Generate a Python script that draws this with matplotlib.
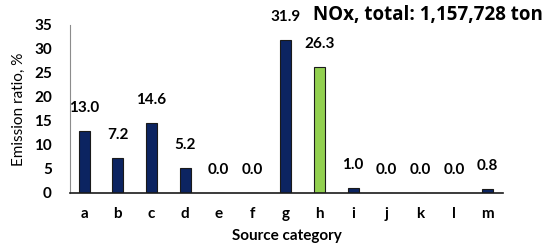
import matplotlib.pyplot as plt

# Source categories and NOx emission ratio (%)
categories = ['a', 'b', 'c', 'd', 'e', 'f', 'g', 'h', 'i', 'j', 'k', 'l', 'm']
ratios = [13.0, 7.2, 14.6, 5.2, 0.0, 0.0, 31.9, 26.3, 1.0, 0.0, 0.0, 0.0, 0.8]
highlight = 'h'

plt.rcParams['font.family'] = ['Lato', 'DejaVu Sans']

fig = plt.figure(figsize=(5.43, 2.47), dpi=100)
ax = fig.add_axes([0.129, 0.219, 0.797, 0.68])

x = list(range(len(categories)))
colors = ['#92d050' if c == highlight else '#0c2461' for c in categories]
ax.bar(x, ratios, width=0.33, color=colors, edgecolor='#1a1a1a', linewidth=0.8)

for xi, v in zip(x, ratios):
    ax.annotate(f'{v:.1f}', (xi, v), xytext=(0, 16.5), textcoords='offset points',
                ha='center', va='center', fontsize=11, fontweight='bold')

ax.set_xlim(-0.42, 12.45)
ax.set_ylim(0, 35)
ax.set_yticks(range(0, 36, 5))
ax.set_xticks(x)
ax.set_xticklabels(categories)
ax.tick_params(length=0, labelsize=11, pad=10)
ax.tick_params(axis='y', pad=13)
for lab in ax.get_xticklabels() + ax.get_yticklabels():
    lab.set_fontweight('bold')

ax.spines['top'].set_visible(False)
ax.spines['right'].set_visible(False)
ax.spines['left'].set_color('#8c8c8c')
ax.spines['bottom'].set_color('#1a1a1a')
ax.spines['bottom'].set_linewidth(1.2)

ax.set_ylabel('Emission ratio, %', fontsize=11, labelpad=6)
ax.set_xlabel('Source category', fontsize=11, fontweight='bold', labelpad=6)

fig.text(313 / 543, 1 - 15 / 247, 'NOx, total: 1,157,728 ton', fontsize=13.5,
         family=['Open Sans', 'DejaVu Sans'], fontweight='bold',
         ha='left', va='center')

fig.savefig('out.png', dpi=100)
